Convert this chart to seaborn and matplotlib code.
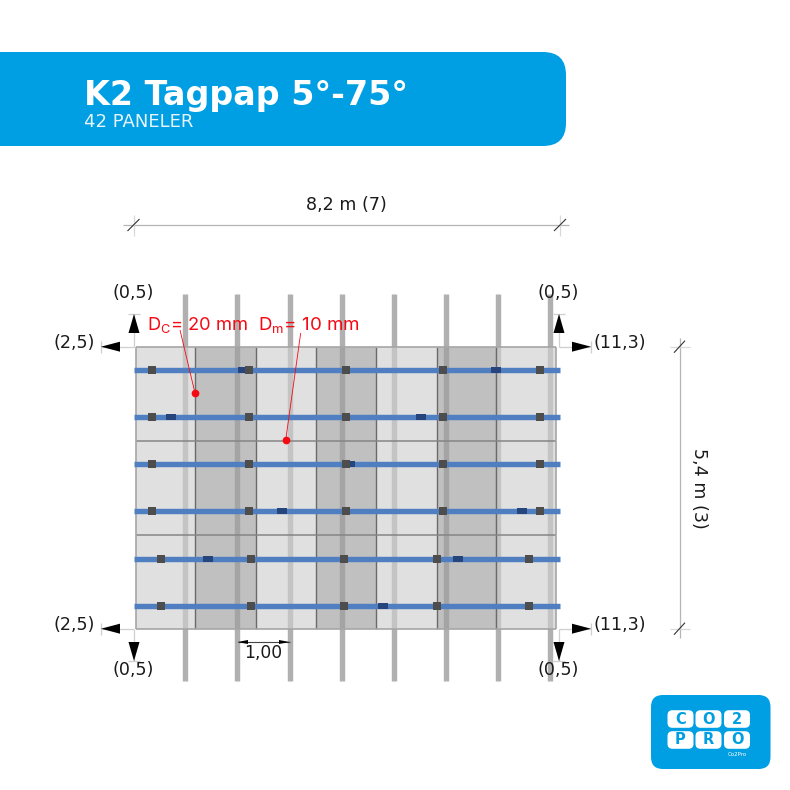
import matplotlib
matplotlib.use('Agg')
import numpy as np
import pandas as pd
import seaborn as sns
import matplotlib.pyplot as plt
from matplotlib.markers import MarkerStyle
from matplotlib.patches import FancyBboxPatch, Polygon
from matplotlib.path import Path

# roof layout, metres from the top left panel corner
panel_x = [0, 1.165, 2.355, 3.52, 4.69, 5.875, 7.04, 8.2]
panel_y = [0, 1.805, 3.61, 5.4]
dark_columns = [1, 3, 5]
rafter_x = [0.97, 1.985, 3.007, 4.02, 5.04, 6.05, 7.07, 8.09]
rafter_span = [-1.01, 6.40]
rail_y = [0.446, 1.347, 2.253, 3.153, 4.06, 4.964]
rail_span = [-0.04, 8.29]
clamp_x_upper = [0.326, 2.213, 4.106, 6.0, 7.89]
clamp_x_lower = [0.49, 2.252, 4.067, 5.882, 7.683]
splice_x = [2.09, 7.03, 0.697, 5.57, 4.185, 2.863, 7.535, 1.411, 6.30, 4.838]
splice_y = [0.446, 0.446, 1.347, 1.347, 2.253, 3.153, 3.153, 4.06, 4.06, 4.964]
load_x = [1.16, 2.93]
load_y = [0.893, 1.793]

# drawing scale of the metre axes on the 790 px page
X0, Y0 = 135.6, 346.7
SX, SY = 51.24, 52.2

sns.set_theme(style='white')
plt.rcParams['font.family'] = ['DejaVu Sans']
plt.rcParams['mathtext.default'] = 'regular'

fig = plt.figure(figsize=(7.9, 7.9), dpi=100, facecolor='white')
ax = fig.add_axes([0, 0, 1, 1])
ax.set_xlim(-X0 / SX, (790 - X0) / SX)
ax.set_ylim((790 - Y0) / SY, -Y0 / SY)
ax.axis('off')

# rafters sit under the translucent panels
ax.vlines(rafter_x, rafter_span[0], rafter_span[1], color='#b0b0b0', lw=3.9, zorder=1)

for c in range(len(panel_x) - 1):
    face = (0.62, 0.62, 0.62, 0.65) if c in dark_columns else (0.815, 0.815, 0.815, 0.65)
    ax.bar(panel_x[c], panel_y[-1], width=panel_x[c + 1] - panel_x[c], align='edge',
           facecolor=face, edgecolor='none', zorder=2)

# panel joints
ax.vlines(panel_x[1:-1], panel_y[0], panel_y[-1], color='#6a6a6a', lw=1.0, zorder=2.5)
ax.hlines(panel_y[1:-1], panel_x[0], panel_x[-1], color='#858585', lw=1.1, zorder=2.5)
ax.vlines([panel_x[0], panel_x[-1]], panel_y[0], panel_y[-1], color='#a6a6a6', lw=1.2, zorder=2.5)
ax.hlines([panel_y[0], panel_y[-1]], panel_x[0], panel_x[-1], color='#a6a6a6', lw=1.2, zorder=2.5)

rails = pd.DataFrame({'x': np.tile(rail_span, len(rail_y)),
                      'y': np.repeat(rail_y, 2),
                      'rail': np.repeat(range(len(rail_y)), 2)})
sns.lineplot(data=rails, x='x', y='y', units='rail', estimator=None, sort=False, ax=ax,
             color='#4f7fc1', lw=3.9, solid_capstyle='butt', zorder=3, legend=False)

# dark splices on the rails, wider than tall
splice_marker = MarkerStyle(Path([(-1, -0.46), (1, -0.46), (1, 0.46), (-1, 0.46), (-1, -0.46)]))
sns.scatterplot(x=splice_x, y=splice_y, ax=ax, marker=splice_marker, s=62, color='#25457c',
                linewidth=0, zorder=4, legend=False)

clamps = pd.DataFrame({'x': [v for _ in rail_y[:4] for v in clamp_x_upper]
                            + [v for _ in rail_y[4:] for v in clamp_x_lower],
                       'y': [v for v in rail_y[:4] for _ in clamp_x_upper]
                            + [v for v in rail_y[4:] for _ in clamp_x_lower]})
sns.scatterplot(data=clamps, x='x', y='y', ax=ax, marker='s', s=33, color='#4d4d4d',
                linewidth=0, zorder=5, legend=False)

sns.scatterplot(x=load_x, y=load_y, ax=ax, marker='o', s=31, color='#f50a14',
                linewidth=0, zorder=6, legend=False)

# page furniture in pixel coordinates, on top of the drawing
page = fig.add_axes([0, 0, 1, 1], facecolor='none')
page.set_xlim(0, 790)
page.set_ylim(790, 0)
page.axis('off')

BLUE = '#009ee2'
page.add_patch(FancyBboxPatch((-40, 52), 606, 94, boxstyle='round,pad=0,rounding_size=23',
                              fc=BLUE, ec='none'))
page.text(84, 105, 'K2 Tagpap 5°-75°', color='white', fontsize=24, fontweight='bold', va='baseline')
page.text(84, 127, '42 PANELER', color='#e6f5fc', fontsize=13, va='baseline')

DIM = '#b5b5b5'
TXT = '#1a1a1a'
LABEL = 12.6


def thin(xs, ys, color=DIM, lw=0.9):
    page.plot(xs, ys, color=color, lw=lw, solid_capstyle='butt')


# overall dimensions
thin([123, 569], [225, 225])
for x in [133.5, 560]:
    thin([x, x], [215, 236], color='#d8d8d8')
    thin([x - 6, x + 6], [231, 219], color='#333333', lw=0.8)
page.text(346, 205, '8,2 m (7)', fontsize=LABEL, color=TXT, ha='center', va='center')

thin([679.5, 679.5], [338, 638])
for y in [346.7, 628.7]:
    thin([670, 690], [y, y], color='#d8d8d8')
    thin([674, 685], [y + 6, y - 6], color='#333333', lw=0.8)
page.text(699, 488, '5,4 m (3)', fontsize=LABEL, color=TXT, rotation=-90, ha='center', va='center')


def corner(x, y, vy, hx, vlabel, hlabel, vlabel_y, hlabel_x):
    # L shaped offset marker with two filled arrow heads at a panel corner
    vdir = np.sign(vy - y)
    hdir = np.sign(hx - x)
    thin([x, x], [y, vy], color='#cfcfcf')
    thin([x, hx], [y, y], color='#cfcfcf')
    thin([x - 6, x + 6], [vy, vy], color='#cfcfcf')
    thin([hx, hx], [y - 6, y + 6], color='#cfcfcf')
    page.add_patch(Polygon([(x, vy), (x - 5.5, vy - vdir * 19), (x + 5.5, vy - vdir * 19)],
                           fc='black', ec='none', zorder=7))
    page.add_patch(Polygon([(hx, y), (hx - hdir * 19, y - 5), (hx - hdir * 19, y + 5)],
                           fc='black', ec='none', zorder=7))
    page.text(x - 1, vlabel_y, vlabel, fontsize=LABEL, color=TXT, ha='center', va='center', zorder=8)
    page.text(hlabel_x, y - 3.5, hlabel, fontsize=LABEL, color=TXT, ha='center', va='center', zorder=8)


corner(134, 346.7, 314, 101, '(0,5)', '(2,5)', 293, 74)
corner(559, 346.7, 314, 591, '(0,5)', '(11,3)', 293, 620)
corner(134, 628.7, 661, 101, '(0,5)', '(2,5)', 670, 74)
corner(559, 628.7, 661, 591, '(0,5)', '(11,3)', 670, 620)

# rafter spacing
thin([237.5, 289.5], [642, 642], color='#444444', lw=0.8)
page.add_patch(Polygon([(237.5, 642), (248, 640), (248, 644)], fc='black', ec='none', zorder=7))
page.add_patch(Polygon([(289.5, 642), (279, 640), (279, 644)], fc='black', ec='none', zorder=7))
page.text(263, 653, '1,00', fontsize=12.3, color=TXT, ha='center', va='center', zorder=8)

# red load callouts
RED = '#f50a14'
thin([180, 195], [330, 393], color=RED, lw=0.6)
thin([300.7, 285.7], [333, 440], color=RED, lw=0.6)
red_font = ['Inter', 'DejaVu Sans']
page.text(147, 330, r'D$_{C}$= 20 mm', fontsize=13.2, color=RED, family=red_font, va='baseline', zorder=8)
page.text(258, 330, r'D$_{m}$= 10 mm', fontsize=13.5, color=RED, family=red_font, va='baseline', zorder=8)

# logo: white rounded cells with the letters cut out in the logo blue
page.add_patch(FancyBboxPatch((651, 695), 119.5, 74, boxstyle='round,pad=0,rounding_size=12',
                              fc=BLUE, ec='none'))
logo_cols = [680.5, 708.5, 737]
for row_y, word in zip([719, 740], ['CO2', 'PRO']):
    for cx, letter in zip(logo_cols, word):
        page.add_patch(FancyBboxPatch((cx - 13, row_y - 8.8), 26, 17.6,
                                      boxstyle='round,pad=0,rounding_size=5', fc='white', ec='none'))
        page.text(cx, row_y, letter, color=BLUE, fontsize=10.5, fontweight='bold', ha='center',
                  va='center', zorder=8)
page.text(737, 755, 'Co2Pro', color='white', fontsize=4, ha='center', va='center')

fig.savefig('out.png', dpi=100)
